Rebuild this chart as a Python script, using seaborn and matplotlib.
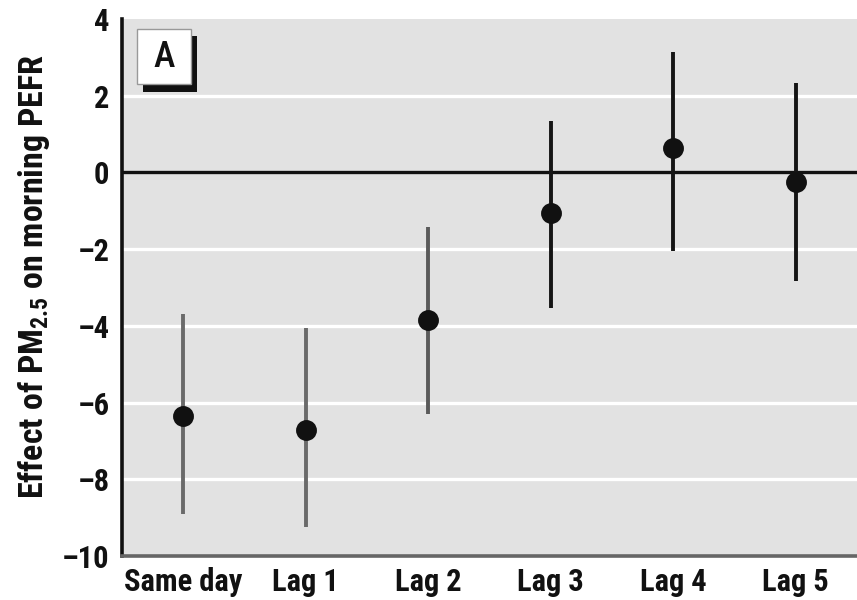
import matplotlib
matplotlib.use("Agg")
import matplotlib.pyplot as plt
import seaborn as sns
import pandas as pd
from matplotlib.patches import Rectangle

categories = ["Same day", "Lag 1", "Lag 2", "Lag 3", "Lag 4", "Lag 5"]
estimate = [-6.35, -6.72, -3.85, -1.07, 0.63, -0.26]
ci_low = [-8.91, -9.24, -6.30, -3.54, -2.06, -2.84]
ci_high = [-3.70, -4.06, -1.41, 1.35, 3.13, 2.32]
bar_colors = ["#6a6a6a", "#6a6a6a", "#5a5a5a", "#151515", "#151515", "#151515"]
y_ticks = [-10, -8, -6, -4, -2, 0, 2, 4]

sns.set_theme(style="white")
FONT = ["Roboto Condensed", "DejaVu Sans"]
plt.rcParams["font.family"] = FONT
plt.rcParams["font.weight"] = "bold"
plt.rcParams["mathtext.fontset"] = "custom"
plt.rcParams["mathtext.rm"] = "Roboto Condensed:bold"
plt.rcParams["mathtext.bf"] = "Roboto Condensed:bold"
plt.rcParams["mathtext.it"] = "Roboto Condensed:bold"

df = pd.DataFrame({"lag": categories, "effect": estimate})

fig = plt.figure(figsize=(8.57, 6.0), dpi=100)
W, H = 857, 600
ax = fig.add_axes([122 / W, (H - 556) / H, (W - 122) / W, (556 - 19) / H])
ax.set_facecolor("#e2e2e2")

# gridlines
for yv in y_ticks:
    if yv in (-10, 4):
        continue
    if yv == 0:
        ax.axhline(0, color="#111111", lw=2.4, zorder=2)
    else:
        ax.axhline(yv, color="white", lw=2.4, zorder=1)

sns.pointplot(data=df, x="lag", y="effect", order=categories, errorbar=None,
              linestyle="none", color="#111111", markers="o",
              markersize=13, ax=ax, zorder=4)
ax.vlines(categories, ci_low, ci_high, colors=bar_colors, lw=2.8, zorder=3)

ax.set_xlim(-0.5, 5.5)
ax.set_ylim(-10, 4)
ax.set_yticks(y_ticks)
ax.set_yticklabels([str(v).replace("-", "\u2013") for v in y_ticks])
ax.set_xlabel("")
ax.set_ylabel(r"Effect of PM$_{2.5}$ on morning PEFR", fontsize=24.5,
              fontweight="bold", color="#111111")
ax.yaxis.label.set_rotation_mode("default")
ax.yaxis.label.set_va("center")
ax.yaxis.set_label_coords(34 / W, 1 - 277 / H, transform=fig.transFigure)
ax.tick_params(axis="both", length=0, labelsize=22, colors="#111111")
ax.tick_params(axis="y", pad=9)
ax.tick_params(axis="x", pad=8)
for lab in ax.get_xticklabels() + ax.get_yticklabels():
    lab.set_fontweight("bold")

for s in ["top", "right"]:
    ax.spines[s].set_visible(False)
ax.spines["left"].set_color("#111111")
ax.spines["left"].set_linewidth(2.6)
ax.spines["bottom"].set_color("#666666")
ax.spines["bottom"].set_linewidth(2.6)

# panel label box
def fig_rect(x0, y0, x1, y1, **kw):
    r = Rectangle((x0 / W, 1 - y1 / H), (x1 - x0) / W, (y1 - y0) / H,
                  transform=fig.transFigure, **kw)
    fig.add_artist(r)

fig_rect(143, 36, 197, 92, facecolor="#111111", edgecolor="none", zorder=10)
fig_rect(137, 29, 191, 84, facecolor="white", edgecolor="#999999", lw=1.0, zorder=11)
fig.text(164 / W, 1 - 57 / H, "A", ha="center", va="center", fontsize=26,
         fontweight="medium", color="#111111", zorder=12)

fig.savefig("out.png", dpi=100)
